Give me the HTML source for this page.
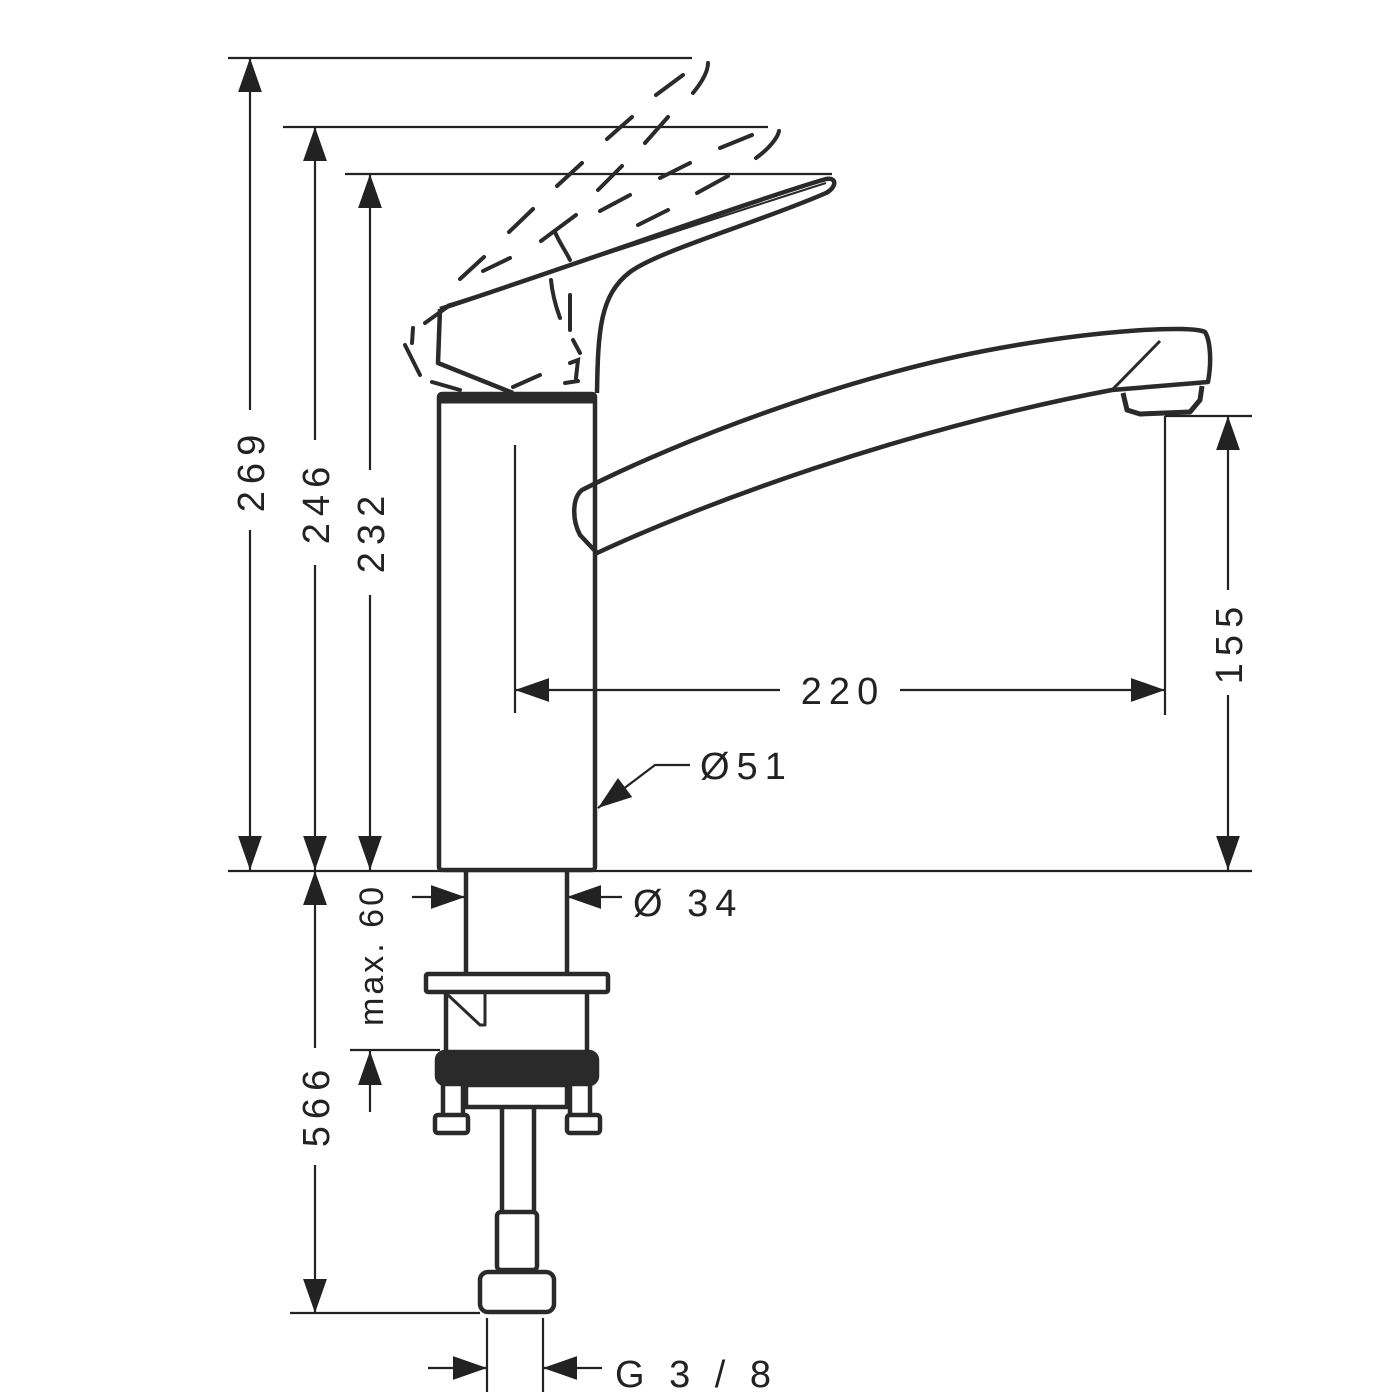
<!DOCTYPE html>
<html><head><style>
html,body{margin:0;padding:0;background:#fff}
svg{display:block}
text{font-family:"Liberation Sans",sans-serif;font-size:38px;fill:#222;letter-spacing:7px}
</style></head><body>
<svg width="1396" height="1396" viewBox="0 0 1396 1396" xmlns="http://www.w3.org/2000/svg">
<defs>
<marker id="a" viewBox="0 0 10 10" refX="10" refY="5" markerWidth="34" markerHeight="34" markerUnits="userSpaceOnUse" orient="auto-start-reverse"><path d="M0,1.5 L10,5 L0,8.5z" fill="#222"/></marker>
</defs>
<g stroke="#222" fill="none" stroke-width="2.2">
<!-- extension lines -->
<line x1="228" y1="58" x2="692" y2="58"/>
<line x1="283" y1="127" x2="768" y2="127"/>
<line x1="345" y1="174" x2="832" y2="174"/>
<line x1="228" y1="871" x2="1252" y2="871"/>
<line x1="1165" y1="416" x2="1252" y2="416"/>
<line x1="1165" y1="416" x2="1165" y2="715"/>
<line x1="515" y1="445" x2="515" y2="713"/>
<line x1="350" y1="1050" x2="440" y2="1050"/>
<line x1="290" y1="1313" x2="480" y2="1313"/>
<line x1="487" y1="1318" x2="487" y2="1392"/>
<line x1="543" y1="1318" x2="543" y2="1392"/>
<!-- 269 -->
<line x1="250" y1="58" x2="250" y2="410" marker-start="url(#a)"/>
<line x1="250" y1="530" x2="250" y2="870" marker-end="url(#a)"/>
<!-- 246 -->
<line x1="315" y1="127" x2="315" y2="440" marker-start="url(#a)"/>
<line x1="315" y1="565" x2="315" y2="870" marker-end="url(#a)"/>
<!-- 232 -->
<line x1="370" y1="174" x2="370" y2="470" marker-start="url(#a)"/>
<line x1="370" y1="595" x2="370" y2="870" marker-end="url(#a)"/>
<!-- 566 -->
<line x1="315" y1="871" x2="315" y2="1048" marker-start="url(#a)"/>
<line x1="315" y1="1165" x2="315" y2="1313" marker-end="url(#a)"/>
<!-- max60 -->
<line x1="370" y1="1112" x2="370" y2="1051" marker-end="url(#a)"/>
<!-- 155 -->
<line x1="1228" y1="416" x2="1228" y2="590" marker-start="url(#a)"/>
<line x1="1228" y1="695" x2="1228" y2="870" marker-end="url(#a)"/>
<!-- 220 -->
<line x1="515" y1="690" x2="780" y2="690" marker-start="url(#a)"/>
<line x1="900" y1="690" x2="1165" y2="690" marker-end="url(#a)"/>
<!-- Ø34 -->
<line x1="412" y1="897" x2="465" y2="897" marker-end="url(#a)"/>
<line x1="622" y1="897" x2="567" y2="897" marker-end="url(#a)"/>
<!-- G3/8 -->
<line x1="428" y1="1368" x2="487" y2="1368" marker-end="url(#a)"/>
<line x1="602" y1="1368" x2="543" y2="1368" marker-end="url(#a)"/>
<!-- Ø51 leader -->
<polyline points="690,765 655,765 598,808" marker-end="url(#a)"/>
</g>
<g stroke="#2a2a2a" fill="none" stroke-width="4.5" stroke-linejoin="round">
<!-- body -->
<rect x="439" y="394" width="156" height="476" rx="3"/>
<line x1="439" y1="399" x2="595" y2="399" stroke-width="9"/>
<!-- handle -->
<path d="M440,309 L438,363 L513,393"/>
<path d="M440,309 C560,270 760,198 826,179 C838,177 836,188 826,193 C760,222 660,250 630,272 C600,295 598,330 597,393"/>
<path d="M447,305 C560,270 740,210 826,183" stroke-width="2"/>
<!-- spout -->
<path d="M597,553 C700,505 900,430 1112,390 L1208,382 C1212,360 1210,340 1205,332 C1190,325 1100,330 1000,348 C850,375 680,440 582,490 C572,498 572,520 580,535 Z"/>
<path d="M1112,390 L1160,341" stroke-width="3"/>
<path d="M1123,393 L1127,410 L1140,414 L1190,412 L1200,400 L1202,386" stroke-width="5"/>
<!-- shank -->
<line x1="466" y1="872" x2="466" y2="974"/>
<line x1="567" y1="872" x2="567" y2="974"/>
<rect x="426" y="974" width="182" height="18" rx="2"/>
<line x1="446" y1="993" x2="446" y2="1052"/>
<line x1="587" y1="993" x2="587" y2="1052"/>
<path d="M448,995 L480,1025 L485,1025 L485,994" stroke-width="3"/>
<rect x="437" y="1052" width="160" height="32" rx="8" fill="#2a2a2a"/>
<path d="M443,1085 V1115 M463,1085 V1115 M570,1085 V1115 M590,1085 V1115"/>
<rect x="435" y="1115" width="33" height="18" rx="3"/>
<rect x="567" y="1115" width="33" height="18" rx="3"/>
<rect x="466" y="1085" width="101" height="22"/>
<line x1="502" y1="1108" x2="502" y2="1212"/>
<line x1="534" y1="1108" x2="534" y2="1212"/>
<rect x="497" y="1212" width="40" height="58" rx="4"/>
<rect x="480" y="1272" width="74" height="40" rx="8"/>
</g>
<!-- dashed handle alternate positions -->
<g stroke="#2a2a2a" fill="none" stroke-width="4" stroke-linecap="round">
<path d="M656,95 L683,75 M693,93 C702,82 708,72 708,63"/>
<path d="M607,139 L632,117 M645,143 L668,117 M720,148 L752,135 M756,158 C770,148 778,137 779,131"/>
<path d="M557,186 L582,163 M598,190 L622,166 M660,178 L690,163 M697,193 L728,176"/>
<path d="M509,232 L533,209 M541,241 L576,215 M600,211 L630,195 M638,225 L668,210"/>
<path d="M460,279 L484,257 M483,271 L510,258 M570,260 C565,250 558,240 555,232"/>
<path d="M425,323 L450,305 M413,328 L412,343 M405,345 L420,375 M432,382 L460,390 M513,387 L540,375"/>
<path d="M551,280 C553,300 558,312 560,318 M570,295 L570,330 M573,340 L580,353 M570,363 L578,360 L576,378 M565,383 L578,381"/>
</g>
<g>
<text transform="translate(264,470) rotate(-90)" text-anchor="middle">269</text>
<text transform="translate(329,502) rotate(-90)" text-anchor="middle">246</text>
<text transform="translate(384,531) rotate(-90)" text-anchor="middle">232</text>
<text transform="translate(329,1105) rotate(-90)" text-anchor="middle">566</text>
<text transform="translate(383,955) rotate(-90)" text-anchor="middle" style="font-size:34px;letter-spacing:3px">max. 60</text>
<text transform="translate(1242,642) rotate(-90)" text-anchor="middle">155</text>
<text x="843" y="704" text-anchor="middle">220</text>
<text x="700" y="779">Ø51</text>
<text x="633" y="916">Ø 34</text>
<text x="615" y="1387">G 3 / 8</text>
</g>
</svg>
</body></html>
